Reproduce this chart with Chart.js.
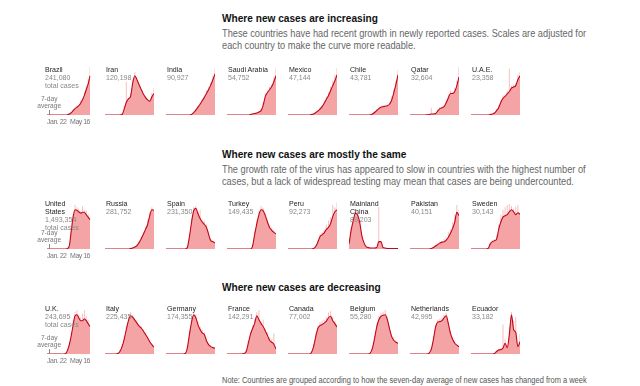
<!DOCTYPE html>
<html>
<head>
<meta charset="utf-8">
<script src="https://cdn.jsdelivr.net/npm/chart.js@4.4.0/dist/chart.umd.min.js"></script>
<style>
  body { margin: 0; background: #fff; }
  #page { position: relative; width: 640px; height: 386px; overflow: hidden;
          font-family: "Liberation Sans", Arial, sans-serif; }
  .hed, .dek, .note, .name, .avg-label { transform-origin: 0 0; transform: scaleX(0.88); }
  .hed { position: absolute; left: 222px; font-weight: bold; font-size: 11.5px; line-height: 14px; color: #121212; white-space: nowrap; }
  .dek { position: absolute; left: 222px; font-size: 10.5px; line-height: 12px; color: #666; white-space: nowrap; }
  .note { position: absolute; left: 222px; top: 375px; font-size: 8.5px; line-height: 10px; color: #555; white-space: nowrap; }
  .name { position: absolute; font-size: 8px; line-height: 8px; color: #222; white-space: pre-line; pointer-events: none; }
  .name span { color: #888; }
  .avg-label { position: absolute; font-size: 7.5px; line-height: 7px; color: #777; text-align: center; width: 30px; }
  .avg-tick { position: absolute; width: 1px; background: #888; }
</style>
</head>
<body>
<div id="page"></div>
<script>
// x positions of the 24 samples (every 5 days)
const dates = ['Jan. 22', 'Jan. 27', 'Feb. 1', 'Feb. 6', 'Feb. 11', 'Feb. 16', 'Feb. 21', 'Feb. 26',
               'Mar. 2', 'Mar. 7', 'Mar. 12', 'Mar. 17', 'Mar. 22', 'Mar. 27', 'Apr. 1', 'Apr. 6',
               'Apr. 11', 'Apr. 16', 'Apr. 21', 'Apr. 26', 'May 1', 'May 6', 'May 11', 'May 16'];

const groupTitles = ['Where new cases are increasing', 'Where new cases are mostly the same', 'Where new cases are decreasing'];
const groupDeks = [
    ['These countries have had recent growth in newly reported cases. Scales are adjusted for',
     'each country to make the curve more readable.'],
    ['The growth rate of the virus has appeared to slow in countries with the highest number of',
     'cases, but a lack of widespread testing may mean that cases are being undercounted.'],
    []
];
const noteText = 'Note: Countries are grouped according to how the seven-day average of new cases has changed from a week';

// each series is new cases as % of that country's own peak (scales differ per country)
const brazilAvg = [0,0,0,0,0,0,0,0,0,0,0,0.5,2,5,9,13,16,19,24,31,40,52,63,80];
const brazilDaily = [0,0,0,0,0,0,0,0,0,0,0,1,3,6,12,11,20,17,30,28,48,60,74,98];
const iranAvg = [0,0,0,0,0,0,0,0,1,12,26,33,38,65,80,72,62,52,43,36,31,28,37,44];
const iranDaily = [0,0,0,0,0,0,0,0,3,20,68,30,45,72,88,70,60,48,40,38,29,30,45,56];
const indiaAvg = [0,0,0,0,0,0,0,0,0,0,0,0,1,5,10,16,22,29,36,44,52,61,72,84];
const indiaDaily = [0,0,0,0,0,0,0,0,0,0,0,0,2,7,12,18,26,32,40,50,58,66,80,95];
const saudiAvg = [0,0,0,0,0,0,0,0,0,0,0,1,2,3,4,6,9,20,38,46,52,58,68,80];
const saudiDaily = [0,0,0,0,0,0,0,0,0,0,0,1,3,4,5,8,12,26,44,50,58,62,78,97];
const mexicoAvg = [0,0,0,0,0,0,0,0,0,0,0,1,2,5,8,12,17,24,32,40,50,60,70,82];
const mexicoDaily = [0,0,0,0,0,0,0,0,0,0,0,1,3,6,10,15,20,30,38,46,58,70,82,96];
const chileAvg = [0,0,0,0,0,0,0,0,0,0,0.5,2,5,9,13,16,17,18,19,22,30,45,62,82];
const chileDaily = [0,0,0,0,0,0,0,0,0,0,1,3,7,12,16,18,20,19,21,26,38,52,70,92];
const qatarAvg = [0,0,0,0,0,0,0,0,0.5,1,2,2,3,8,13,15,17,25,35,44,44,48,60,78];
const qatarDaily = [0,0,0,0,0,0,0,0,1,2,15,3,4,10,16,17,20,30,42,50,48,55,70,98];
const uaeAvg = [0,0,0,0,0,0,0,0,0,1,2,4,9,15,26,34,38,43,48,55,57,60,72,80];
const uaeDaily = [0,0,0,0,0,0,0,0,0,2,3,5,12,20,30,40,42,50,95,60,62,65,82,88];

const usAvg = [0,0,0,0,0,0,0,0,0,0,0,1,8,38,66,80,79,76,73,75,75,70,65,60];
const usDaily = [0,0,0,0,0,0,0,0,0,0,0,2,12,45,72,90,85,82,78,88,80,78,72,64];
const russiaAvg = [0,0,0,0,0,0,0,0,0,0,0,0,1,2,4,7,13,21,30,40,50,68,80,79];
const russiaDaily = [0,0,0,0,0,0,0,0,0,0,0,0,1,3,5,9,16,25,34,45,60,75,85,80];
const spainAvg = [0,0,0,0,0,0,0,0,0,0,3,25,55,78,83,72,62,55,50,44,30,17,15,12];
const spainDaily = [0,0,0,0,0,0,0,0,0,0,5,32,62,85,88,76,80,60,58,50,36,22,19,15];
const turkeyAvg = [0,0,0,0,0,0,0,0,0,0,0,0,6,30,52,70,80,78,68,55,44,38,34,31];
const turkeyDaily = [0,0,0,0,0,0,0,0,0,0,0,0,9,36,58,78,88,84,72,60,48,44,38,33];
const peruAvg = [0,0,0,0,0,0,0,0,0,0,0,0,1,5,14,25,29,33,40,44,52,66,76,80];
const peruDaily = [0,0,0,0,0,0,0,0,0,0,0,0,2,7,18,30,34,40,50,58,65,90,85,95];
const chinaAvg = [10,38,58,73,70,55,28,13,5,3,2,2,2,3,15,15,3,2,1,1,1,1,1,1];
const chinaDaily = [15,45,65,80,76,58,25,10,4,3,2,2,2,3,86,10,3,2,1,1,1,1,1,1];
const pakistanAvg = [0,0,0,0,0,0,0,0,0,0,1,3,6,9,12,14,15,18,24,32,42,55,75,68];
const pakistanDaily = [0,0,0,0,0,0,0,0,0,0,2,4,8,12,16,17,20,24,35,40,55,70,90,80];
const swedenAvg = [0,0,0,0,0,0,0,0,1,10,15,17,20,40,55,65,68,70,76,80,76,70,74,71];
const swedenDaily = [0,0,0,0,0,0,0,0,2,14,18,20,28,50,70,80,85,90,92,88,82,86,90,75];

const ukAvg = [0,0,0,0,0,0,0,0,0,0,1,8,20,38,60,78,80,74,68,68,72,68,62,56];
const ukDaily = [0,0,0,0,0,0,0,0,0,0,2,10,24,45,70,86,90,80,75,82,90,78,70,60];
const italyAvg = [0,0,0,0,0,0,1,5,15,30,50,68,78,75,69,63,57,53,47,40,33,25,19,14];
const italyDaily = [0,0,0,0,0,0,2,8,20,38,58,75,85,80,72,70,60,56,50,44,35,28,20,15];
const germanyAvg = [0,0,0,0,0,0,0,0,0,1,12,40,65,80,74,60,50,43,40,27,19,15,13,12];
const germanyDaily = [0,0,0,0,0,0,0,0,0,2,16,48,72,86,80,66,56,50,44,32,22,18,15,13];
const franceAvg = [0,0,0,0,0,0,0,0,1,5,22,40,52,63,78,70,62,56,47,38,28,24,20,10];
const franceDaily = [0,0,0,0,0,0,0,0,2,8,28,45,58,72,85,90,66,70,50,44,34,30,42,12];
const canadaAvg = [0,0,0,0,0,0,0,0,0,0,0,3,15,35,52,58,60,63,67,74,77,68,62,55];
const canadaDaily = [0,0,0,0,0,0,0,0,0,0,0,5,20,42,58,66,68,70,75,85,88,76,68,60];
const belgiumAvg = [0,0,0,0,0,0,0,0,0,0,2,12,32,55,70,77,79,80,70,52,36,28,24,22];
const belgiumDaily = [0,0,0,0,0,0,0,0,0,0,3,16,38,62,78,84,86,90,75,58,40,35,28,24];
const netherlandsAvg = [0,0,0,0,0,0,0,0,0,2,10,30,55,65,66,68,74,78,62,42,30,22,18,15];
const netherlandsDaily = [0,0,0,0,0,0,0,0,0,3,14,36,60,70,72,74,80,84,66,48,35,26,20,16];
const ecuadorAvg = [0,0,0,0,0,0,0,0,0,0,0,1,5,8,9,12,22,13,40,80,50,44,15,25];
const ecuadorDaily = [0,0,0,0,0,0,0,0,0,0,0,2,7,10,12,60,30,8,55,86,68,75,5,40];

const rows = [
    [['Brazil', '241,080', brazilAvg, brazilDaily], ['Iran', '120,198', iranAvg, iranDaily],
     ['India', '90,927', indiaAvg, indiaDaily], ['Saudi Arabia', '54,752', saudiAvg, saudiDaily],
     ['Mexico', '47,144', mexicoAvg, mexicoDaily], ['Chile', '43,781', chileAvg, chileDaily],
     ['Qatar', '32,604', qatarAvg, qatarDaily], ['U.A.E.', '23,358', uaeAvg, uaeDaily]],
    [['United\nStates', '1,493,354', usAvg, usDaily], ['Russia', '281,752', russiaAvg, russiaDaily],
     ['Spain', '231,350', spainAvg, spainDaily], ['Turkey', '149,435', turkeyAvg, turkeyDaily],
     ['Peru', '92,273', peruAvg, peruDaily], ['Mainland\nChina', '89,203', chinaAvg, chinaDaily],
     ['Pakistan', '40,151', pakistanAvg, pakistanDaily], ['Sweden', '30,143', swedenAvg, swedenDaily]],
    [['U.K.', '243,695', ukAvg, ukDaily], ['Italy', '225,435', italyAvg, italyDaily],
     ['Germany', '174,355', germanyAvg, germanyDaily], ['France', '142,291', franceAvg, franceDaily],
     ['Canada', '77,002', canadaAvg, canadaDaily], ['Belgium', '55,280', belgiumAvg, belgiumDaily],
     ['Netherlands', '42,995', netherlandsAvg, netherlandsDaily], ['Ecuador', '33,182', ecuadorAvg, ecuadorDaily]]
];

const page = document.getElementById('page');
const headTops = [11, 147, 280];
const baselines = [115, 249, 354];
const PLOT_H = 49;

function addDiv(cls, css, html) {
    const d = document.createElement('div');
    d.className = cls;
    Object.assign(d.style, css);
    if (html !== undefined) d.innerHTML = html;
    page.appendChild(d);
    return d;
}

// tighter letters for the two date labels, which have to share 49px
const tightText = {
    id: 'tightText',
    beforeDraw(chart) { chart.ctx.letterSpacing = '-0.5px'; }
};

// --- HEADINGS ---
groupTitles.forEach((t, r) => {
    addDiv('hed', { top: headTops[r] + 'px' }, t);
    if (groupDeks[r].length) {
        addDiv('dek', { top: (headTops[r] + 16) + 'px' }, groupDeks[r].join('<br>'));
    }
});
addDiv('note', {}, noteText);

// --- SMALL MULTIPLES ---
rows.forEach((row, r) => {
    const base = baselines[r];
    row.forEach(([name, total, avg, daily], c) => {
        const x = 44 + 61 * c;
        const first = c === 0;

        const canvas = document.createElement('canvas');
        canvas.width = 49;
        canvas.height = PLOT_H + 14;
        canvas.style.left = x + 'px';
        canvas.style.top = (base - PLOT_H - 1) + 'px';
        canvas.style.position = 'absolute';
        page.appendChild(canvas);

        new Chart(canvas, {
            data: {
                labels: dates,
                datasets: [
                    {
                        type: 'line',
                        data: avg,
                        borderColor: '#c0061b',
                        borderWidth: 1.1,
                        backgroundColor: '#f4a4a4',
                        fill: 'origin',
                        pointRadius: 0,
                        cubicInterpolationMode: 'monotone'
                    },
                    {
                        type: 'bar',
                        data: daily,
                        backgroundColor: '#f8c3c3',
                        barPercentage: 0.5,
                        categoryPercentage: 1
                    }
                ]
            },
            plugins: [tightText],
            options: {
                responsive: false,
                animation: false,
                devicePixelRatio: 1,
                layout: { padding: { top: 1, left: 0, right: 0, bottom: 0 } },
                plugins: { legend: { display: false }, tooltip: { enabled: false } },
                scales: {
                    y: { display: false, min: 0, max: 100 },
                    x: {
                        offset: false,
                        grid: { display: false, drawTicks: false },
                        border: { display: false },
                        ticks: {
                            display: first,
                            autoSkip: false,
                            maxRotation: 0,
                            align: 'inner',
                            padding: 3,
                            color: '#777',
                            font: { family: '"Liberation Sans", Arial', size: 7 },
                            callback: function (v, i, ticks) {
                                return (i === 0 || i === ticks.length - 1) ? this.getLabelForValue(v) : '';
                            }
                        },
                        afterFit: (axis) => { axis.height = 13; }
                    }
                }
            }
        });

        let label = name + '\n<span>' + total + (first ? '\ntotal cases' : '') + '</span>';
        addDiv('name', { left: (x + 1) + 'px', top: (base - PLOT_H) + 'px' }, label);

        if (first) {
            addDiv('avg-label', { left: (x - 8) + 'px', top: (base - 20) + 'px' }, '7-day<br>average');
            addDiv('avg-tick', { left: (x + 5) + 'px', top: (base - 5) + 'px', height: '5px' });
        }
    });
});
</script>
</body>
</html>
